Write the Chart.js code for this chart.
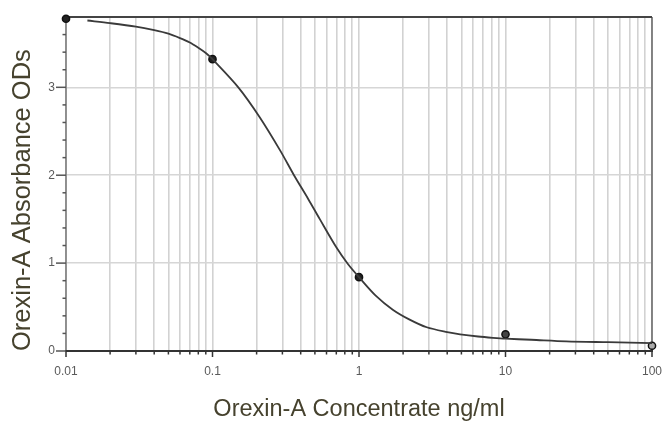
<!DOCTYPE html>
<html><head><meta charset="utf-8">
<script src="https://cdn.jsdelivr.net/npm/chart.js@4.4.0/dist/chart.umd.min.js"></script>
<style>html,body{margin:0;padding:0;background:#fff;}#wrap{width:662px;height:421px;position:relative;}</style>
</head><body><div id="wrap"><canvas id="c"></canvas></div>
<script>
const xTitle = 'Orexin-A Concentrate ng/ml';
const yTitle = 'Orexin-A Absorbance ODs';

// standards (measured points)
const stdConc = [0.01, 0.1, 1, 10, 100];
const stdOD = [3.78, 3.32, 0.84, 0.19, 0.06];

// fitted curve
const fitConc = [0.014, 0.02, 0.03, 0.04, 0.05, 0.06, 0.07, 0.08, 0.09, 0.1, 0.15, 0.21, 0.29, 0.36, 0.45, 0.54, 0.7, 0.84, 1, 1.3, 1.7, 2.2, 2.9, 4, 4.9, 6.5, 8.2, 10, 15, 26, 50, 100];
const fitOD   = [3.76, 3.73, 3.69, 3.65, 3.61, 3.56, 3.51, 3.45, 3.39, 3.32, 3.0, 2.66, 2.28, 2.0, 1.73, 1.5, 1.18, 0.99, 0.84, 0.63, 0.47, 0.36, 0.27, 0.215, 0.19, 0.165, 0.15, 0.14, 0.128, 0.11, 0.10, 0.09];

// ticks
const xTickValues = [0.01,0.02,0.03,0.04,0.05,0.06,0.07,0.08,0.09,
  0.1,0.2,0.3,0.4,0.5,0.6,0.7,0.8,0.9,
  1,2,3,4,5,6,7,8,9,
  10,20,30,40,50,60,70,80,90,100];
const xMajor = [0.01, 0.1, 1, 10, 100];
const xMajorLabels = ['0.01', '0.1', '1', '10', '100'];
const yTickValues = [0,0.2,0.4,0.6,0.8,1,1.2,1.4,1.6,1.8,2,2.2,2.4,2.6,2.8,3,3.2,3.4,3.6];
const yMajor = [0, 1, 2, 3];
const yMajorLabels = ['0', '1', '2', '3'];
const xMin = 0.01, xMax = 100, yMin = 0, yMax = 3.8;

const pointFill = ['#222', '#222', '#222', '#444', '#aaa'];

const axesPlugin = {
  id: 'axesPlugin',
  beforeDatasetsDraw(chart) {
    const {ctx, chartArea: {left, right, top, bottom}, scales: {x, y}} = chart;
    const line = (a, b, c, d) => { ctx.beginPath(); ctx.moveTo(a, b); ctx.lineTo(c, d); ctx.stroke(); };
    ctx.save();
    ctx.strokeStyle = '#777'; ctx.lineWidth = 1.5; line(left, top, left, bottom);
    ctx.strokeStyle = '#666'; ctx.lineWidth = 1.5; line(right, top, right, bottom);
    ctx.strokeStyle = '#444'; ctx.lineWidth = 2; line(left, top, right, top);
    ctx.strokeStyle = '#333'; ctx.lineWidth = 2; line(left - 1, bottom, right + 1, bottom);
    ctx.lineWidth = 1.5; ctx.strokeStyle = '#333';
    xTickValues.forEach(v => {
      const px = x.getPixelForValue(v);
      const len = xMajor.includes(v) ? 6 : 3.5;
      line(px, bottom, px, bottom + len);
    });
    ctx.strokeStyle = '#555';
    yTickValues.forEach(v => {
      const py = y.getPixelForValue(v);
      const len = yMajor.includes(v) ? 10 : 3.5;
      line(left - len, py, left, py);
    });
    ctx.restore();
  }
};

new Chart(document.getElementById('c'), {
  type: 'scatter',
  data: {
    datasets: [
      {
        label: 'fit',
        data: fitConc.map((c, i) => ({x: c, y: fitOD[i]})),
        showLine: true,
        borderColor: '#3a3a3a',
        borderWidth: 1.8,
        pointRadius: 0,
        tension: 0.3,
        clip: false
      },
      {
        label: 'standards',
        data: stdConc.map((c, i) => ({x: c, y: stdOD[i]})),
        showLine: false,
        pointRadius: 3.6,
        pointBackgroundColor: pointFill,
        pointBorderColor: '#111',
        pointBorderWidth: 1.5,
        clip: false
      }
    ]
  },
  options: {
    responsive: true,
    maintainAspectRatio: false,
    animation: false,
    layout: {padding: {top: 17, right: 10, left: 0, bottom: 0}},
    plugins: {legend: {display: false}, tooltip: {enabled: false}},
    scales: {
      x: {
        type: 'logarithmic',
        min: xMin, max: xMax,
        afterBuildTicks: s => { s.ticks = xTickValues.map(v => ({value: v})); },
        afterFit: s => { s.height = 70; s.paddingLeft = 0; s.paddingRight = 0; },
        border: {display: false},
        grid: {
          drawTicks: false,
          color: '#d2d2d2',
          lineWidth: 1.6
        },
        ticks: {
          autoSkip: false, maxRotation: 0, padding: 13,
          color: '#5a5a5a',
          font: {family: 'Liberation Sans', size: 12},
          callback: v => { const i = xMajor.indexOf(v); return i >= 0 ? xMajorLabels[i] : ''; }
        },
        title: {
          display: true, text: xTitle, color: '#46422e',
          font: {family: 'Liberation Sans', size: 23.5, lineHeight: 1},
          padding: {top: 0, bottom: 0}
        }
      },
      y: {
        type: 'linear',
        min: yMin, max: yMax,
        afterBuildTicks: s => { s.ticks = yTickValues.map(v => ({value: v})); },
        afterFit: s => { s.width = 66; s.paddingTop = 0; s.paddingBottom = 0; },
        border: {display: false},
        grid: {
          drawTicks: false,
          color: ctx => (ctx.tick && yMajor.includes(ctx.tick.value)) ? '#d6d6d6' : 'rgba(0,0,0,0)',
          lineWidth: 1.6
        },
        ticks: {
          autoSkip: false, padding: 11,
          color: '#5a5a5a',
          font: {family: 'Liberation Sans', size: 12},
          callback: v => { const i = yMajor.indexOf(v); return i >= 0 ? yMajorLabels[i] : ''; }
        },
        title: {
          display: true, text: yTitle, color: '#46422e', align: 'start',
          font: {family: 'Liberation Sans', size: 25.5, lineHeight: 1},
          padding: {top: 10, bottom: 0}
        }
      }
    }
  },
  plugins: [axesPlugin]
});
</script>
</body></html>
